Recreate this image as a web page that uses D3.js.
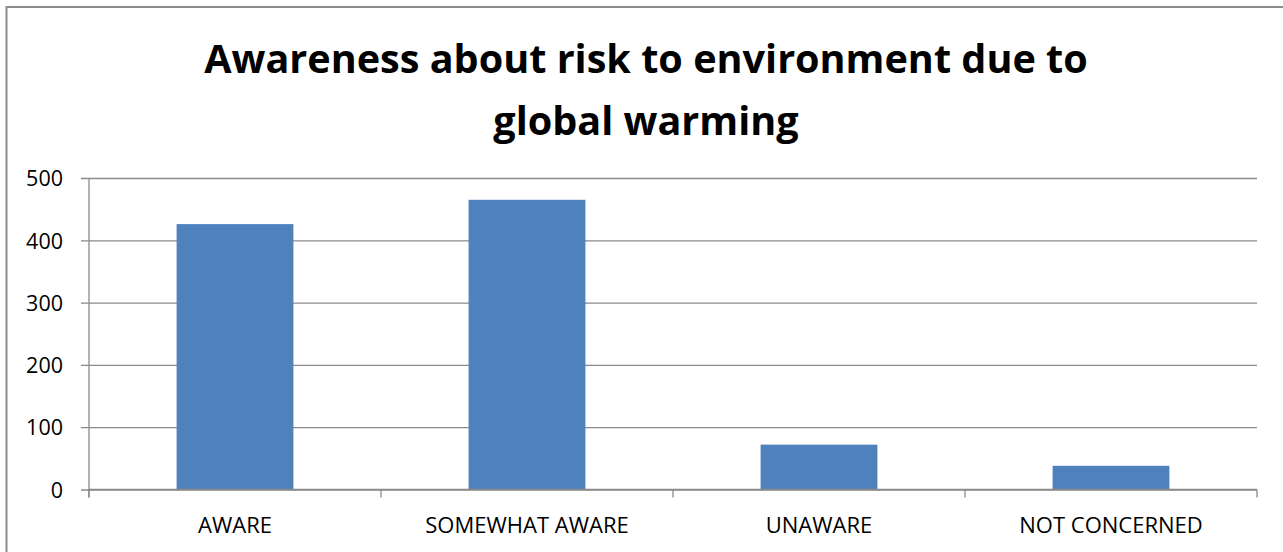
<!DOCTYPE html>
<html>
<head>
<meta charset="utf-8">
<script src="https://cdn.jsdelivr.net/npm/d3@7"></script>
<style>
  html, body { margin: 0; padding: 0; background: #fff; }
  svg { display: block; }
  text { font-family: "Open Sans", Lato, "Liberation Sans", sans-serif; fill: #000; }
</style>
</head>
<body>
<svg id="chart" width="1283" height="552"></svg>
<script>
// Survey responses: awareness about risk to the environment due to global warming
const categories = ["AWARE", "SOMEWHAT AWARE", "UNAWARE", "NOT CONCERNED"];
const responses = [426, 465, 72, 38];
const yTicks = [0, 100, 200, 300, 400, 500];
const titleLines = ["Awareness about risk to environment due to", "global warming"];

const svg = d3.select("#chart");
const W = 1283, H = 552;

// Chart frame
svg.append("rect")
  .attr("x", 6.5).attr("y", 7)
  .attr("width", W + 20).attr("height", H + 20)
  .attr("fill", "#fff")
  .attr("stroke", "#8c8c8c")
  .attr("stroke-width", 2);

const plot = { left: 89, right: 1257, top: 178, bottom: 489.5 };

const x = d3.scaleBand()
  .domain(categories)
  .range([plot.left, plot.right])
  .paddingInner(0.6)
  .paddingOuter(0.3);

const y = d3.scaleLinear()
  .domain([0, 500])
  .range([plot.bottom, plot.top]);

// Horizontal gridlines with tick marks extending left of the axis
const yAxis = d3.axisLeft(y)
  .tickValues(yTicks)
  .tickSize(-(plot.right - plot.left))
  .tickPadding(26)
  .tickFormat(d3.format("d"));

const gy = svg.append("g")
  .attr("transform", `translate(${plot.left},0)`)
  .call(yAxis);
gy.select(".domain").remove();
gy.selectAll(".tick line")
  .attr("x1", -8)
  .attr("stroke", "#8a8a8a")
  .attr("stroke-width", 1.3);
gy.selectAll(".tick text")
  .attr("font-size", 21.5)
  .attr("dy", "0.36em");

// Bars
svg.append("g")
  .selectAll("rect")
  .data(responses)
  .join("rect")
  .attr("x", (d, i) => x(categories[i]))
  .attr("y", d => y(d))
  .attr("width", x.bandwidth())
  .attr("height", d => y(0) - y(d))
  .attr("fill", "#4f81bd");

// Vertical value axis line
svg.append("line")
  .attr("x1", plot.left).attr("x2", plot.left)
  .attr("y1", plot.top).attr("y2", plot.bottom + 8)
  .attr("stroke", "#8a8a8a").attr("stroke-width", 1.3);

// Category axis with boundary tick marks
const boundaries = d3.range(categories.length + 1).map(i => plot.left + i * (plot.right - plot.left) / categories.length);
const gx = svg.append("g");
gx.append("line")
  .attr("x1", plot.left).attr("x2", plot.right)
  .attr("y1", plot.bottom).attr("y2", plot.bottom)
  .attr("stroke", "#8a8a8a").attr("stroke-width", 1.5);
gx.selectAll("line.tk")
  .data(boundaries)
  .join("line")
  .attr("class", "tk")
  .attr("x1", d => d).attr("x2", d => d)
  .attr("y1", plot.bottom).attr("y2", plot.bottom + 8)
  .attr("stroke", "#8a8a8a").attr("stroke-width", 1.3);
gx.selectAll("text")
  .data(categories)
  .join("text")
  .attr("x", d => x(d) + x.bandwidth() / 2)
  .attr("y", 533)
  .attr("text-anchor", "middle")
  .attr("font-size", 22)
  .text(d => d);

// Title, two centred bold lines
const title = svg.append("g");
title.selectAll("text")
  .data(titleLines)
  .join("text")
  .attr("x", 646)
  .attr("y", (d, i) => 72.5 + i * 62)
  .attr("text-anchor", "middle")
  .attr("font-weight", "bold")
  .attr("font-size", 40)
  .text(d => d);
// fit first line to its width of ~884px
const first = title.select("text").node();
const len = first.getComputedTextLength();
const fs = 40 * 884 / len;
title.selectAll("text").attr("font-size", fs);
</script>
</body>
</html>
